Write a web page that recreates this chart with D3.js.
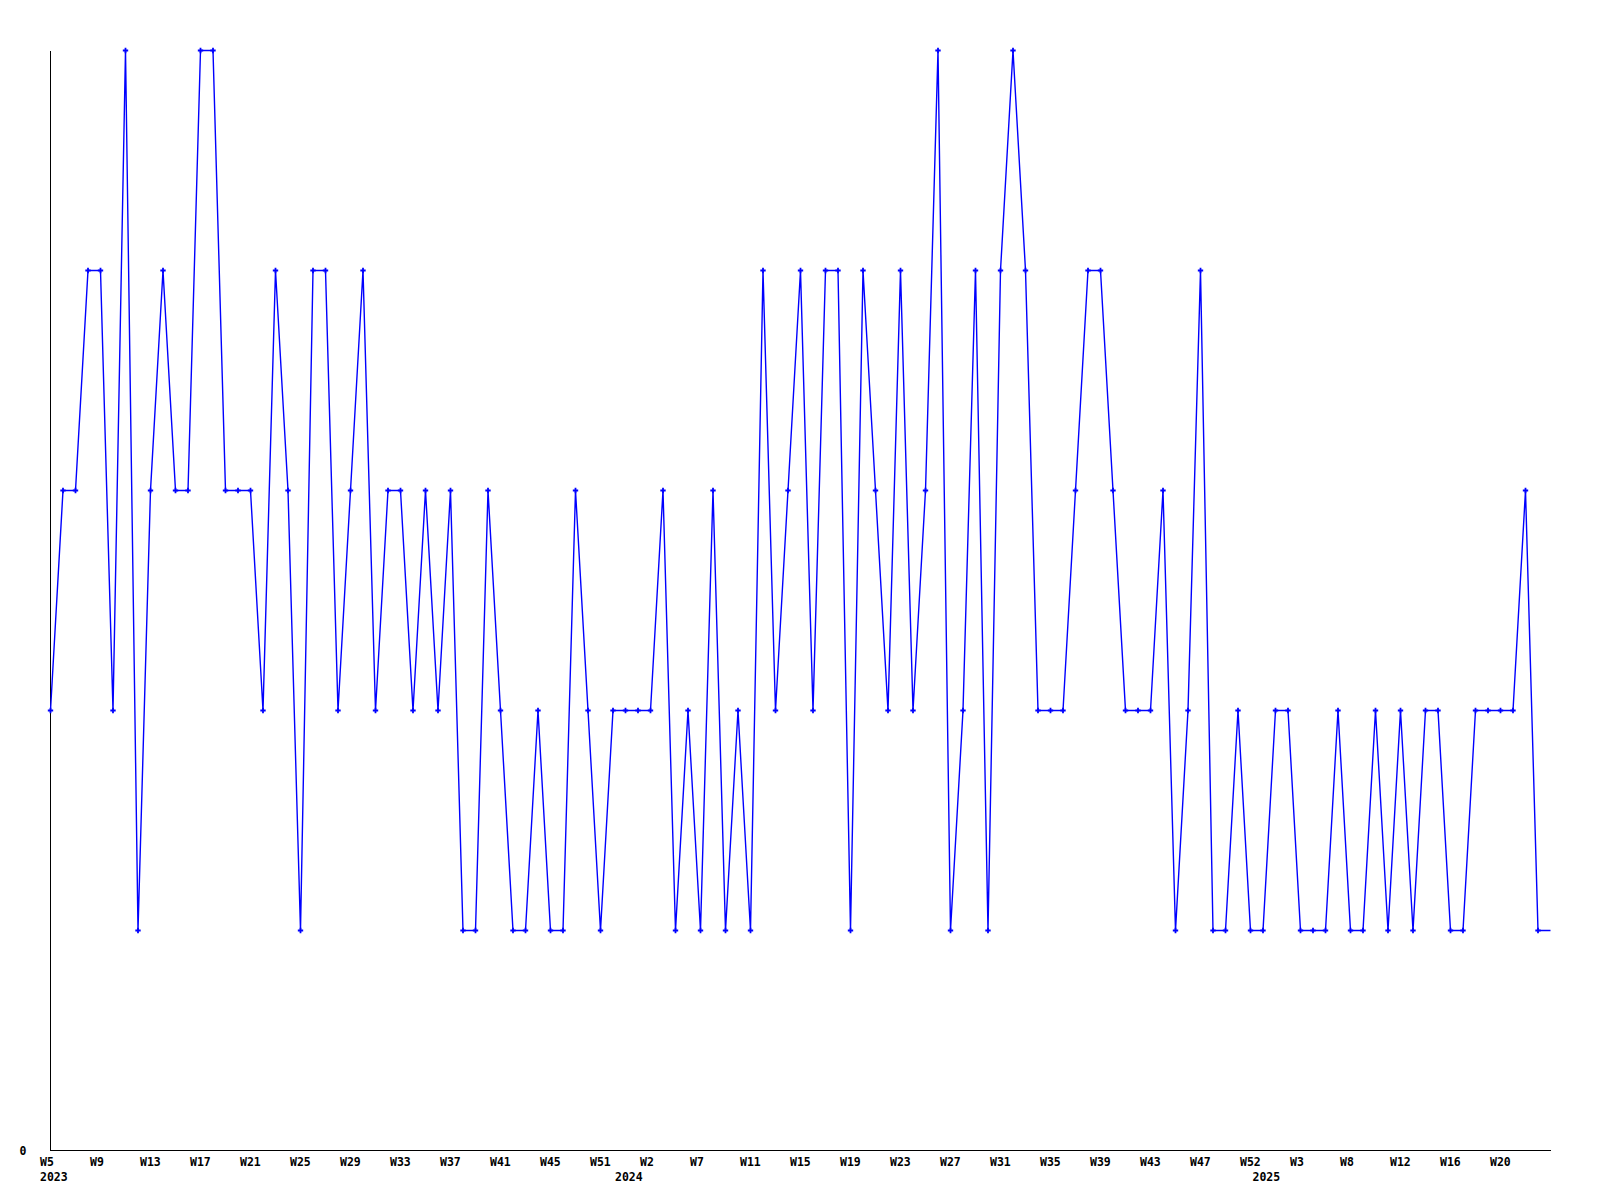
<!DOCTYPE html>
<html>
<head>
<meta charset="utf-8">
<script src="https://cdn.jsdelivr.net/npm/d3@7"></script>
<style>
  html, body { margin: 0; padding: 0; background: #ffffff; }
  svg { display: block; }
  text { font-family: "DejaVu Sans Mono", monospace; font-weight: bold; font-size: 11.5px; fill: #000; }
</style>
</head>
<body>
<svg id="chart" width="1600" height="1200"></svg>
<script>
// ---- data ----
const values = [
  2,3,3,4,4,2,5,1,3,4,3,3,5,5,3,3,3,2,4,3,
  1,4,4,2,3,4,2,3,3,2,3,2,3,1,1,3,2,1,1,2,
  1,1,3,2,1,2,2,2,2,3,1,2,1,3,1,2,1,4,2,3,
  4,2,4,4,1,4,3,2,4,2,3,5,1,2,4,1,4,5,4,2,
  2,2,3,4,4,3,2,2,2,3,1,2,4,1,1,2,1,1,2,2,
  1,1,1,2,1,1,2,1,2,1,2,2,1,1,2,2,2,2,3,1,
  1
];
// the final point is a trailing (unmarked) value that runs to the plot edge
const markedCount = 120;
const weekLabels = ["W5","W9","W13","W17","W21","W25","W29","W33","W37","W41",
  "W45","W51","W2","W7","W11","W15","W19","W23","W27","W31",
  "W35","W39","W43","W47","W52","W3","W8","W12","W16","W20"];
const weekLabelStep = 4;
const yearLabels = ["2023","2024","2025"];
const yearIndex = [0, 46, 97];
const yTicks = [0];

(function () {
  const svg = d3.select("#chart");
  const mLeft = 50, mRight = 1550, mTop = 50, mBottom = 1150;

  const x = d3.scaleLinear().domain([0, values.length - 1]).range([mLeft, mRight]);
  const y = d3.scaleLinear().domain([0, 5]).range([mBottom, mTop]);

  const g = svg.append("g").attr("transform", "translate(0.5,0.5)");

  // axes lines
  g.append("line").attr("x1", mLeft).attr("x2", mLeft).attr("y1", mTop).attr("y2", mBottom)
    .attr("stroke", "#000").attr("stroke-width", 1).attr("shape-rendering", "crispEdges");
  g.append("line").attr("x1", mLeft).attr("x2", mRight).attr("y1", mBottom).attr("y2", mBottom)
    .attr("stroke", "#000").attr("stroke-width", 1).attr("shape-rendering", "crispEdges");

  // y tick labels
  g.selectAll("text.ytick").data(yTicks).enter().append("text")
    .attr("class", "ytick")
    .attr("x", mLeft - 24)
    .attr("y", d => y(d) + 4)
    .attr("text-anchor", "end")
    .text(d => d);

  // x week labels
  g.selectAll("text.xtick").data(weekLabels).enter().append("text")
    .attr("class", "xtick")
    .attr("x", (d, i) => x(i * weekLabelStep) - 10.5)
    .attr("y", mBottom + 15.5)
    .attr("text-anchor", "start")
    .text(d => d);

  // year labels
  g.selectAll("text.year").data(yearLabels).enter().append("text")
    .attr("class", "year")
    .attr("x", (d, i) => x(yearIndex[i]) - 10.5)
    .attr("y", mBottom + 30.5)
    .attr("text-anchor", "start")
    .text(d => d);

  // line
  const line = d3.line().x((d, i) => x(i)).y(d => y(d));
  g.append("path")
    .datum(values)
    .attr("d", line)
    .attr("fill", "none")
    .attr("stroke", "#0000ff")
    .attr("stroke-width", 1.4)
    .attr("stroke-linejoin", "miter");

  // markers
  const sym = d3.symbol().type(d3.symbolCross).size(16);
  g.selectAll("path.marker").data(values.slice(0, markedCount)).enter().append("path")
    .attr("class", "marker")
    .attr("transform", (d, i) => `translate(${x(i)},${y(d)})`)
    .attr("d", sym)
    .attr("fill", "#0000ff");
})();
</script>
</body>
</html>
